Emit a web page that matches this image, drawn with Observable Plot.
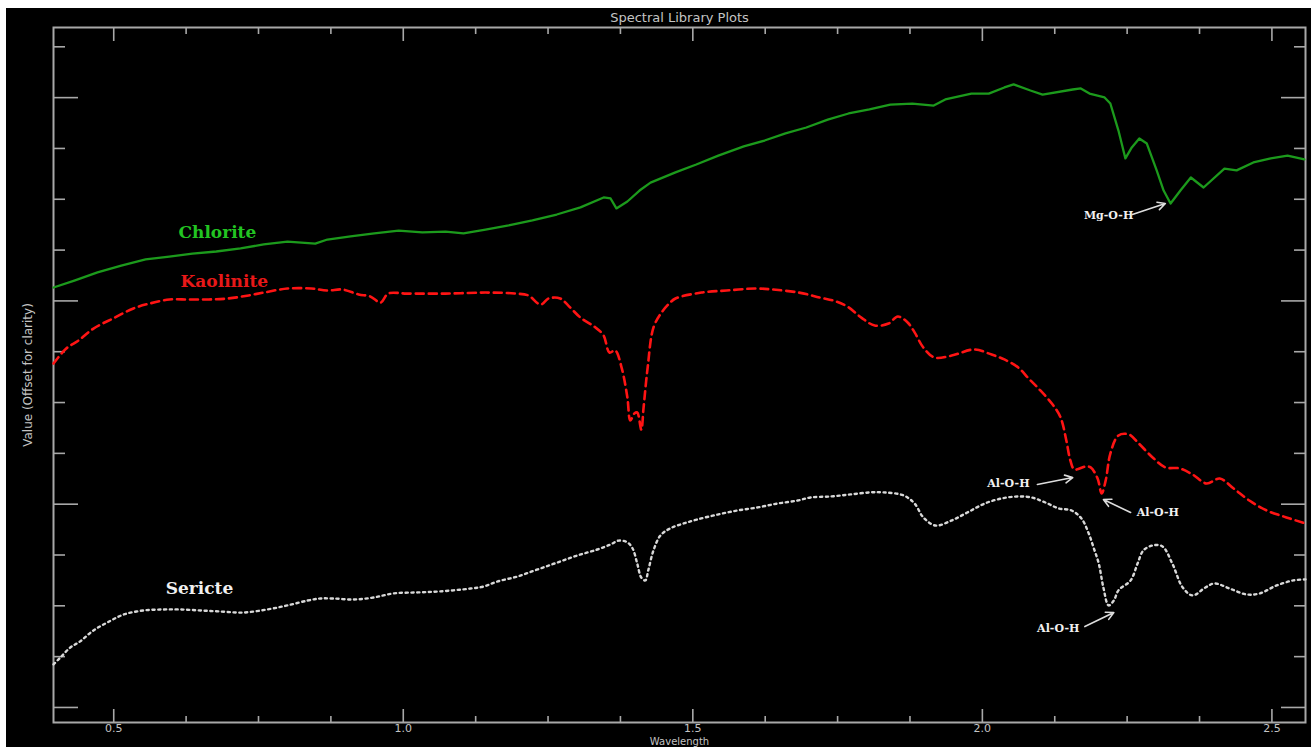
<!DOCTYPE html>
<html>
<head>
<meta charset="utf-8">
<script src="https://cdn.jsdelivr.net/npm/d3@7"></script>
<script src="https://cdn.jsdelivr.net/npm/@observablehq/plot@0.6"></script>
<style>
  html, body { margin: 0; padding: 0; background: #ffffff; width: 1311px; height: 747px; overflow: hidden; }
  #wrap { position: absolute; left: 6px; top: 8px; width: 1305px; height: 739px; background: #000; overflow: hidden; }
  #wrap svg { display: block; }
</style>
</head>
<body>
<div id="wrap"></div>
<script>
// ---- Data (wavelength in µm, value offset for clarity) ----
const chloriteWl = [0.396,0.432,0.472,0.513,0.555,0.596,0.636,0.677,0.719,0.759,0.800,0.848,0.869,0.909,0.950,0.992,1.033,1.073,1.104,1.142,1.182,1.223,1.265,1.306,1.346,1.358,1.368,1.387,1.408,1.427,1.470,1.506,1.544,1.588,1.624,1.660,1.696,1.733,1.769,1.805,1.841,1.879,1.916,1.936,1.981,2.011,2.038,2.054,2.083,2.104,2.156,2.170,2.185,2.211,2.221,2.235,2.247,2.258,2.271,2.284,2.301,2.313,2.325,2.342,2.360,2.382,2.418,2.439,2.468,2.498,2.527,2.556];
const chloriteVal = [2.066,2.100,2.140,2.174,2.204,2.218,2.233,2.243,2.258,2.278,2.292,2.282,2.302,2.317,2.332,2.346,2.337,2.341,2.332,2.351,2.371,2.396,2.425,2.460,2.509,2.504,2.455,2.489,2.543,2.582,2.632,2.671,2.715,2.760,2.789,2.824,2.853,2.892,2.922,2.942,2.966,2.971,2.961,2.991,3.020,3.020,3.050,3.065,3.035,3.015,3.040,3.045,3.020,3.001,2.971,2.838,2.701,2.755,2.799,2.774,2.642,2.543,2.479,2.543,2.607,2.558,2.651,2.642,2.681,2.701,2.715,2.696];

const kaoliniteWl = [0.396,0.418,0.439,0.465,0.499,0.534,0.562,0.596,0.629,0.664,0.698,0.733,0.759,0.800,0.841,0.869,0.895,0.923,0.943,0.961,0.974,1.006,1.073,1.142,1.195,1.216,1.237,1.251,1.271,1.285,1.306,1.332,1.346,1.356,1.366,1.377,1.387,1.392,1.399,1.404,1.411,1.415,1.422,1.432,1.446,1.461,1.470,1.515,1.558,1.608,1.638,1.683,1.719,1.748,1.769,1.791,1.814,1.838,1.854,1.871,1.883,1.898,1.917,1.947,1.986,2.016,2.038,2.062,2.080,2.097,2.120,2.135,2.145,2.152,2.159,2.178,2.187,2.199,2.206,2.213,2.221,2.235,2.253,2.270,2.294,2.316,2.341,2.363,2.387,2.410,2.434,2.461,2.491,2.525,2.558];
const kaoliniteVal = [1.692,1.766,1.805,1.864,1.914,1.963,1.987,2.007,2.007,2.007,2.012,2.027,2.041,2.061,2.061,2.051,2.056,2.032,2.022,1.992,2.036,2.036,2.036,2.041,2.036,2.027,1.982,2.012,2.012,1.977,1.918,1.869,1.830,1.746,1.756,1.672,1.525,1.412,1.446,1.451,1.367,1.476,1.672,1.869,1.943,1.992,2.012,2.041,2.051,2.061,2.056,2.041,2.017,1.997,1.968,1.918,1.879,1.889,1.923,1.894,1.845,1.771,1.722,1.731,1.761,1.736,1.712,1.672,1.618,1.569,1.495,1.427,1.313,1.215,1.171,1.185,1.181,1.126,1.053,1.117,1.249,1.338,1.343,1.299,1.230,1.181,1.176,1.146,1.102,1.126,1.077,1.018,0.969,0.935,0.905];

const sericiteWl = [0.396,0.408,0.425,0.442,0.465,0.489,0.517,0.551,0.586,0.615,0.650,0.684,0.724,0.765,0.800,0.835,0.857,0.879,0.914,0.949,0.983,1.025,1.064,1.116,1.139,1.163,1.197,1.232,1.266,1.301,1.335,1.358,1.372,1.387,1.396,1.404,1.411,1.418,1.423,1.432,1.444,1.461,1.484,1.508,1.543,1.577,1.612,1.646,1.681,1.703,1.738,1.772,1.807,1.829,1.864,1.883,1.898,1.919,1.947,1.974,2.004,2.033,2.062,2.085,2.109,2.132,2.154,2.171,2.183,2.192,2.201,2.209,2.218,2.227,2.235,2.256,2.268,2.278,2.294,2.311,2.328,2.346,2.363,2.385,2.401,2.427,2.456,2.479,2.508,2.537,2.558];
const sericiteVal = [0.212,0.246,0.295,0.325,0.379,0.418,0.457,0.477,0.482,0.482,0.477,0.472,0.467,0.482,0.502,0.526,0.536,0.536,0.531,0.541,0.561,0.566,0.571,0.585,0.595,0.620,0.644,0.679,0.713,0.748,0.777,0.802,0.821,0.812,0.782,0.708,0.639,0.625,0.674,0.772,0.846,0.881,0.905,0.925,0.949,0.969,0.984,1.003,1.018,1.033,1.038,1.048,1.058,1.058,1.043,1.003,0.935,0.895,0.920,0.959,1.003,1.028,1.038,1.033,1.008,0.979,0.969,0.930,0.861,0.787,0.708,0.590,0.502,0.526,0.576,0.625,0.708,0.772,0.797,0.792,0.708,0.590,0.551,0.590,0.610,0.585,0.556,0.561,0.600,0.625,0.630];

// Series labels
const seriesNames = ["Chlorite", "Kaolinite", "Sericte"];
const seriesLabelWl = [0.679, 0.691, 0.648];
const seriesLabelVal = [2.337, 2.093, 0.585];

// Absorption-feature annotations
const annotationText = ["Mg-O-H", "Al-O-H", "Al-O-H", "Al-O-H"];
const annotationWl = [2.218, 2.045, 2.303, 2.131];
const annotationVal = [2.420, 1.102, 0.959, 0.389];
const arrowFromWl = [2.259, 2.095, 2.256, 2.177];
const arrowFromVal = [2.425, 1.097, 0.959, 0.398];
const arrowToWl = [2.316, 2.156, 2.209, 2.227];
const arrowToVal = [2.479, 1.131, 1.023, 0.467];

// Axis ticks
const xMajorTicks = [0.5, 1.0, 1.5, 2.0, 2.5];
const xMinorTicks = [0.625, 0.75, 0.875, 1.125, 1.25, 1.375, 1.625, 1.75, 1.875, 2.125, 2.25, 2.375];
const yMajorTicks = [0, 1, 2, 3];
const yMinorTicks = [0.25, 0.5, 0.75, 1.25, 1.5, 1.75, 2.25, 2.5, 2.75, 3.25];

const titleText = "Spectral Library Plots";
const xLabel = "Wavelength";
const yLabel = "Value (Offset for clarity)";

// ---- Build tables ----
const toRows = (wl, val) => wl.slice(0, Math.min(wl.length, val.length)).map((w, i) => ({w, v: val[i]}));
const chlorite = toRows(chloriteWl, chloriteVal);
const kaolinite = toRows(kaoliniteWl, kaoliniteVal);
const sericite = toRows(sericiteWl, sericiteVal);
const seriesLabels = seriesNames.map((name, i) => ({name, w: seriesLabelWl[i], v: seriesLabelVal[i]}));
const annotations = annotationText.map((t, i) => ({
  t, w: annotationWl[i], v: annotationVal[i],
  w1: arrowFromWl[i], v1: arrowFromVal[i], w2: arrowToWl[i], v2: arrowToVal[i]
}));

const axisGray = "#a8a8a8";
const textGray = "#c4c4c4";
const blank = () => "";

const chart = Plot.plot({
  width: 1305,
  height: 739,
  marginLeft: 47,
  marginRight: 6,
  marginTop: 19,
  marginBottom: 25,
  style: {background: "#000", color: textGray, fontFamily: "DejaVu Sans, sans-serif", overflow: "visible"},
  x: {domain: [0.396, 2.558], label: null},
  y: {domain: [-0.074, 3.345], label: null},
  marks: [
    // frame
    Plot.frame({stroke: axisGray, strokeWidth: 2}),
    // bottom axis: labelled major ticks + minor ticks (inward)
    Plot.axisX({anchor: "bottom", ticks: xMajorTicks, tickSize: -13, tickFormat: blank, stroke: axisGray, strokeWidth: 1.6, label: null}),
    Plot.axisX({anchor: "bottom", ticks: xMinorTicks, tickSize: -6, tickFormat: blank, stroke: axisGray, strokeWidth: 1.6, label: null}),
    Plot.axisX({anchor: "bottom", ticks: xMajorTicks, tickSize: 0, tickPadding: 2, tickFormat: d3.format(".1f"), fill: textGray, fontSize: 11, label: null}),
    // top axis
    Plot.axisX({anchor: "top", ticks: xMajorTicks, tickSize: -13, tickFormat: blank, stroke: axisGray, strokeWidth: 1.6, label: null}),
    Plot.axisX({anchor: "top", ticks: xMinorTicks, tickSize: -6, tickFormat: blank, stroke: axisGray, strokeWidth: 1.6, label: null}),
    // left axis
    Plot.axisY({anchor: "left", ticks: yMajorTicks, tickSize: -25, tickFormat: blank, stroke: axisGray, strokeWidth: 1.6, label: null}),
    Plot.axisY({anchor: "left", ticks: yMinorTicks, tickSize: -12, tickFormat: blank, stroke: axisGray, strokeWidth: 1.6, label: null}),
    // right axis
    Plot.axisY({anchor: "right", ticks: yMajorTicks, tickSize: -25, tickFormat: blank, stroke: axisGray, strokeWidth: 1.6, label: null}),
    Plot.axisY({anchor: "right", ticks: yMinorTicks, tickSize: -12, tickFormat: blank, stroke: axisGray, strokeWidth: 1.6, label: null}),

    // spectra
    Plot.line(chlorite, {x: "w", y: "v", stroke: "#1c9a1c", strokeWidth: 2.3, curve: "linear"}),
    Plot.line(kaolinite, {x: "w", y: "v", stroke: "#ff1414", strokeWidth: 2.6, strokeDasharray: "8,5", curve: "catmull-rom"}),
    Plot.line(sericite, {x: "w", y: "v", stroke: "#d8d8d8", strokeWidth: 2.4, strokeDasharray: "2.2,3.6", curve: "catmull-rom"}),

    // series labels
    Plot.text(seriesLabels, {
      x: "w", y: "v", text: "name",
      fill: (d) => d.name === "Chlorite" ? "#22c422" : d.name === "Kaolinite" ? "#e81818" : "#f0f0f0",
      fontFamily: "DejaVu Serif, serif", fontWeight: "bold", fontSize: 17
    }),

    // annotations
    Plot.arrow(annotations, {x1: "w1", y1: "v1", x2: "w2", y2: "v2", stroke: "#dcdcdc", strokeWidth: 1.6, headLength: 8, headAngle: 55}),
    Plot.text(annotations, {x: "w", y: "v", text: "t", fill: "#f0f0f0", fontFamily: "DejaVu Serif, serif", fontWeight: "bold", fontSize: 11}),

    // title and axis labels
    Plot.text([titleText], {frameAnchor: "top", dy: -10, lineAnchor: "middle", textAnchor: "middle", text: (d) => d, fill: textGray, fontSize: 13, fontFamily: "DejaVu Sans, sans-serif"}),
    Plot.text([xLabel], {frameAnchor: "bottom", dy: 19, lineAnchor: "middle", textAnchor: "middle", text: (d) => d, fill: textGray, fontSize: 10, fontFamily: "DejaVu Sans, sans-serif"}),
    Plot.text([yLabel], {frameAnchor: "left", dx: -25, rotate: -90, lineAnchor: "middle", textAnchor: "middle", text: (d) => d, fill: textGray, fontSize: 12, fontFamily: "DejaVu Sans, sans-serif"})
  ]
});

document.getElementById("wrap").appendChild(chart);
</script>
</body>
</html>
